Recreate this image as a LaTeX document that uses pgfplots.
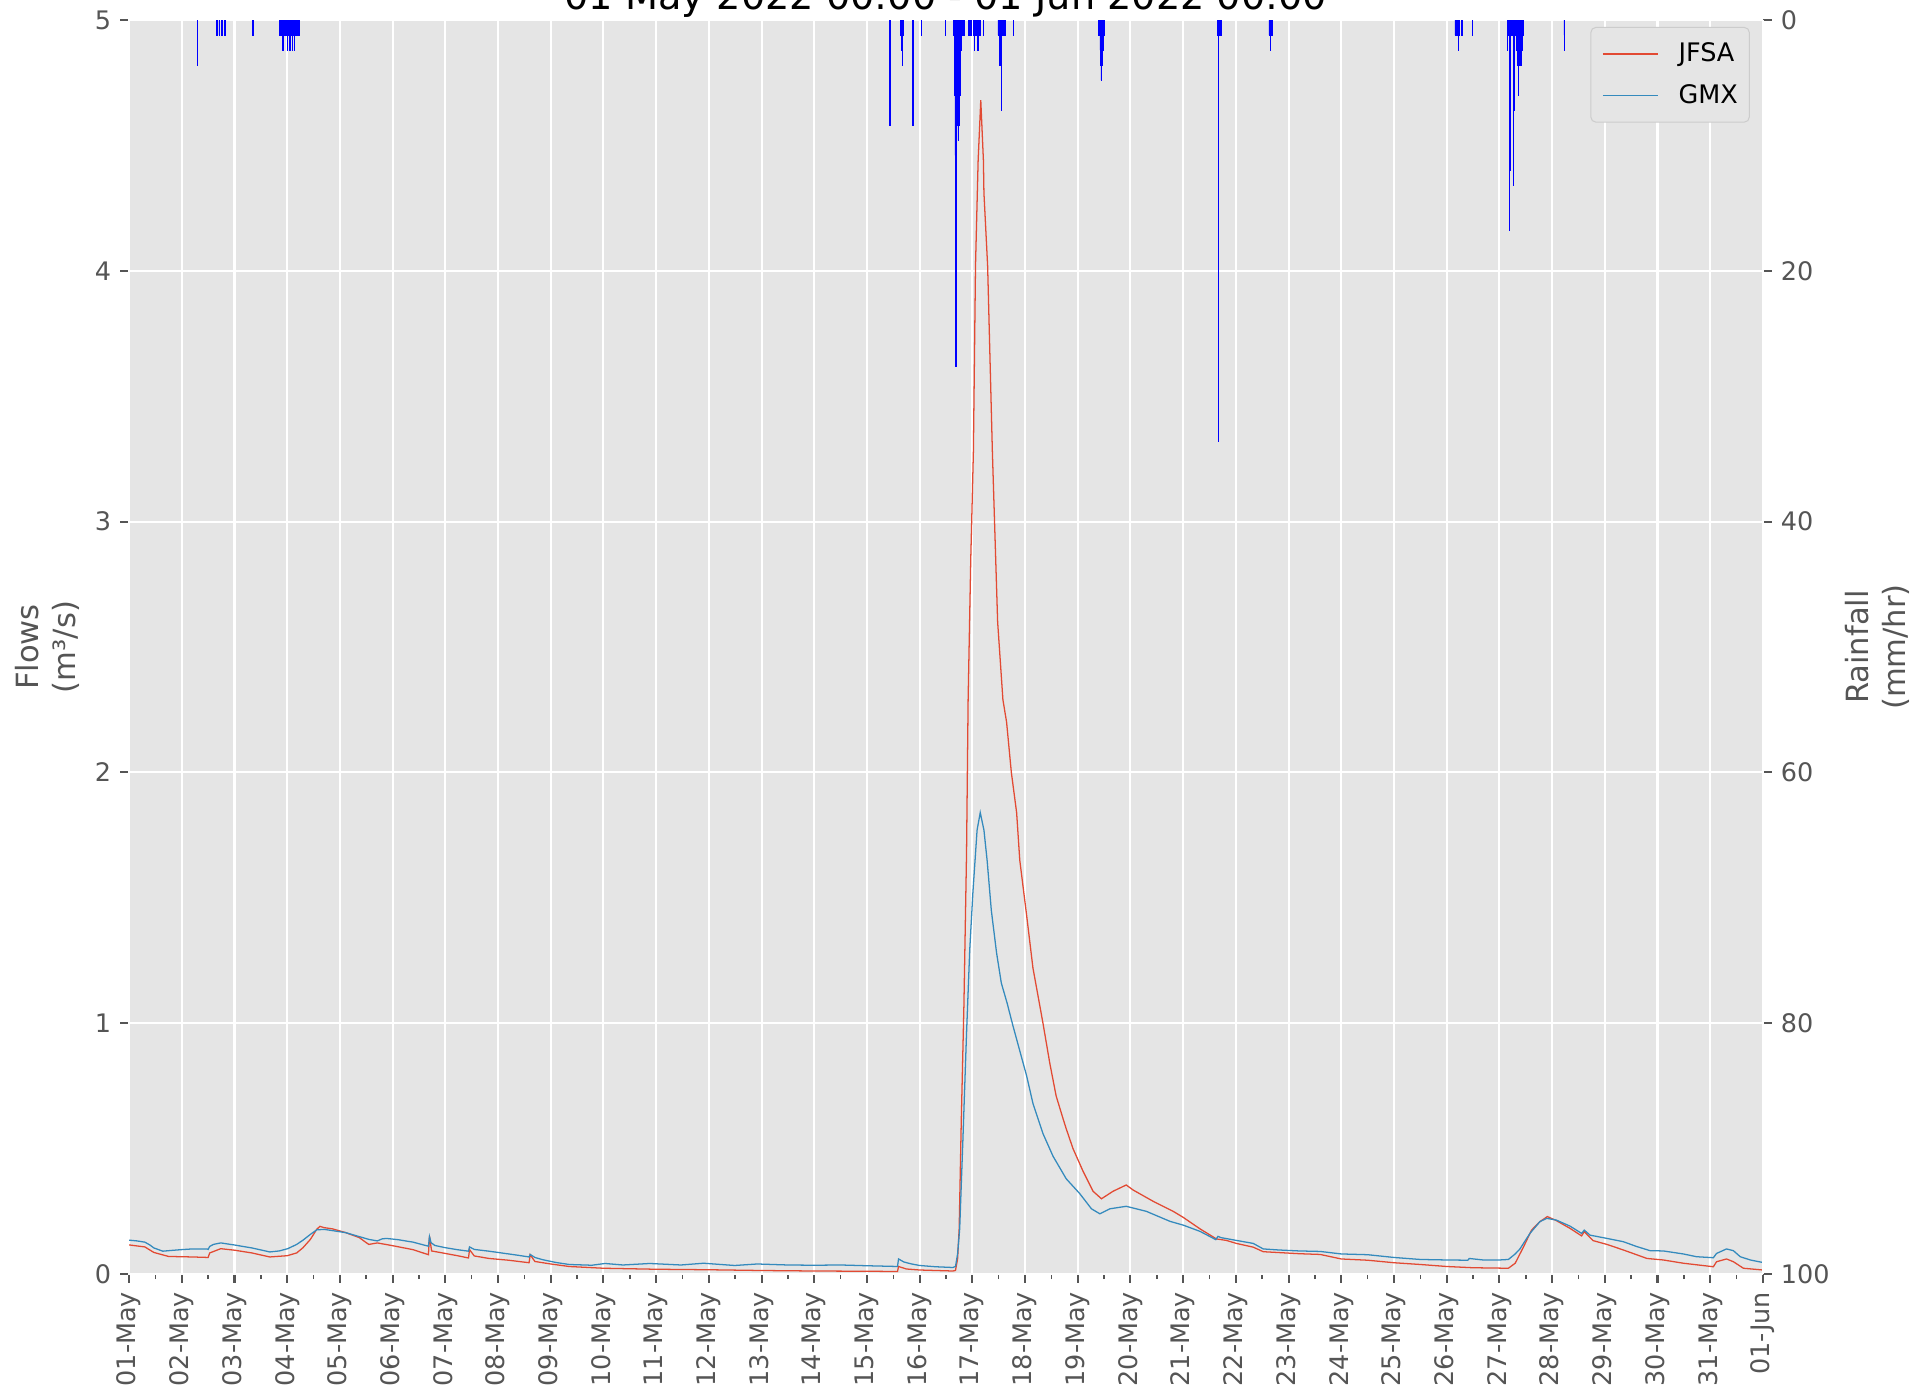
\documentclass[border=0pt]{standalone}
\usepackage{fontspec}
\setmainfont{DejaVu Sans}
\usepackage{pgfplots}
\pgfplotsset{compat=1.18}
\usepackage{pgfplotstable}
\definecolor{ggbg}{HTML}{E5E5E5}
\definecolor{ggtick}{HTML}{555555}
\definecolor{jfsa}{HTML}{E24A33}
\definecolor{gmx}{HTML}{348ABD}
\definecolor{legframe}{HTML}{CCCCCC}

\pgfplotstableread{
x y
0.00 0.116
0.30 0.108
0.47 0.086
0.75 0.070
1.20 0.068
1.50 0.066
1.53 0.084
1.74 0.101
2.00 0.095
2.33 0.084
2.67 0.068
3.00 0.073
3.18 0.084
3.30 0.105
3.44 0.138
3.56 0.178
3.62 0.190
3.70 0.185
3.86 0.180
4.11 0.165
4.37 0.145
4.50 0.125
4.55 0.118
4.71 0.124
5.00 0.113
5.39 0.097
5.68 0.077
5.70 0.151
5.74 0.092
6.00 0.082
6.23 0.073
6.44 0.064
6.46 0.097
6.55 0.072
6.83 0.062
7.20 0.055
7.59 0.045
7.61 0.077
7.70 0.050
8.00 0.040
8.35 0.030
9.00 0.023
10.00 0.019
11.00 0.017
12.00 0.014
13.00 0.012
14.00 0.011
14.58 0.010
14.60 0.030
14.75 0.020
15.00 0.016
15.63 0.012
15.68 0.014
15.72 0.060
15.75 0.180
15.79 0.610
15.84 1.070
15.89 1.680
15.92 2.290
15.97 2.850
16.02 3.280
16.06 4.020
16.11 4.440
16.16 4.680
16.21 4.440
16.22 4.310
16.29 4.020
16.38 3.280
16.48 2.600
16.58 2.290
16.65 2.200
16.74 2.000
16.84 1.840
16.90 1.650
17.03 1.430
17.15 1.220
17.28 1.070
17.34 1.000
17.47 0.840
17.59 0.710
17.72 0.620
17.78 0.580
17.91 0.500
18.10 0.410
18.29 0.330
18.45 0.300
18.67 0.330
18.92 0.355
19.05 0.335
19.43 0.290
19.81 0.250
20.00 0.226
20.32 0.180
20.63 0.140
20.82 0.134
21.01 0.122
21.33 0.107
21.52 0.089
22.20 0.081
22.60 0.078
23.00 0.060
23.50 0.055
24.00 0.045
24.50 0.038
25.00 0.030
25.50 0.025
26.17 0.023
26.30 0.043
26.46 0.109
26.61 0.175
26.77 0.209
26.91 0.229
27.08 0.213
27.34 0.182
27.56 0.152
27.61 0.169
27.78 0.133
28.04 0.118
28.35 0.096
28.80 0.062
29.11 0.056
29.49 0.043
30.06 0.029
30.12 0.049
30.31 0.060
30.44 0.049
30.63 0.023
31.00 0.016
}\jfsatable

\pgfplotstableread{
x y
0.00 0.135
0.15 0.132
0.30 0.127
0.40 0.115
0.47 0.104
0.64 0.091
0.80 0.094
0.98 0.097
1.20 0.100
1.48 0.100
1.50 0.098
1.53 0.110
1.60 0.118
1.74 0.124
1.99 0.116
2.33 0.104
2.67 0.088
2.85 0.092
3.01 0.101
3.18 0.118
3.30 0.135
3.44 0.158
3.56 0.176
3.70 0.178
3.86 0.173
4.11 0.165
4.37 0.149
4.55 0.138
4.71 0.132
4.80 0.140
4.88 0.142
5.10 0.137
5.39 0.127
5.55 0.118
5.68 0.111
5.70 0.149
5.73 0.125
5.80 0.114
6.00 0.105
6.23 0.097
6.44 0.091
6.46 0.108
6.55 0.098
6.83 0.091
7.10 0.083
7.34 0.076
7.59 0.068
7.61 0.078
7.70 0.066
7.85 0.057
8.10 0.046
8.35 0.038
8.78 0.035
9.03 0.042
9.37 0.036
9.88 0.042
10.47 0.036
10.90 0.043
11.49 0.034
11.92 0.040
12.50 0.036
13.00 0.035
13.50 0.036
14.00 0.033
14.58 0.030
14.60 0.060
14.70 0.048
14.85 0.040
15.00 0.034
15.30 0.029
15.63 0.026
15.68 0.030
15.72 0.080
15.76 0.180
15.82 0.530
15.89 0.960
15.95 1.290
16.01 1.520
16.09 1.770
16.15 1.840
16.22 1.770
16.28 1.650
16.36 1.450
16.46 1.280
16.55 1.160
16.66 1.080
16.77 0.990
16.90 0.890
17.03 0.790
17.15 0.680
17.34 0.560
17.53 0.470
17.78 0.380
18.04 0.320
18.26 0.260
18.42 0.240
18.61 0.260
18.92 0.270
19.30 0.250
19.75 0.210
20.00 0.195
20.32 0.170
20.62 0.137
20.66 0.150
20.72 0.145
21.01 0.134
21.33 0.122
21.52 0.100
21.80 0.096
22.20 0.092
22.60 0.090
23.00 0.080
23.50 0.077
24.00 0.066
24.50 0.058
25.00 0.056
25.40 0.055
25.43 0.062
25.69 0.056
26.00 0.056
26.17 0.058
26.30 0.080
26.39 0.100
26.58 0.162
26.77 0.209
26.90 0.222
27.08 0.215
27.34 0.191
27.56 0.162
27.61 0.175
27.72 0.155
28.04 0.142
28.35 0.129
28.60 0.110
28.86 0.093
29.11 0.092
29.49 0.080
29.74 0.069
30.06 0.065
30.12 0.082
30.31 0.100
30.44 0.093
30.57 0.069
30.76 0.056
31.00 0.046
}\gmxtable

\pgfplotstableread{
x y
1.295 2.4
1.302 3.6
1.660 1.2
1.667 1.2
1.708 1.2
1.760 1.2
1.767 1.2
1.816 1.2
2.350 1.2
2.854 1.2
2.861 1.2
2.868 1.2
2.875 1.2
2.882 1.2
2.889 1.2
2.896 1.2
2.903 1.2
2.910 1.2
2.917 2.4
2.924 1.2
2.931 1.2
2.938 1.2
2.944 1.2
2.951 1.2
2.958 1.2
2.965 1.2
2.972 1.2
2.979 1.2
2.986 1.2
2.993 1.2
3.000 1.2
3.007 2.4
3.014 1.2
3.021 1.2
3.028 1.2
3.035 1.2
3.042 1.2
3.049 2.4
3.056 1.2
3.063 1.2
3.069 1.2
3.076 1.2
3.083 1.2
3.090 1.2
3.097 2.4
3.104 1.2
3.111 1.2
3.118 1.2
3.125 1.2
3.132 1.2
3.139 2.4
3.146 1.2
3.153 1.2
3.160 1.2
3.167 1.2
3.174 1.2
3.181 1.2
3.188 1.2
3.194 1.2
3.201 1.2
3.208 1.2
3.215 1.2
3.222 1.2
3.229 1.2
14.430 7.2
14.437 8.4
14.646 1.2
14.653 2.4
14.660 2.4
14.667 1.2
14.674 3.6
14.681 1.2
14.688 1.2
14.868 6.0
14.875 8.4
15.030 1.2
15.490 1.2
15.653 1.2
15.660 2.4
15.667 6.0
15.674 10.8
15.681 9.6
15.688 27.6
15.694 24.0
15.701 8.4
15.708 8.4
15.715 7.2
15.722 8.4
15.729 9.6
15.736 9.6
15.743 8.4
15.750 7.2
15.757 6.0
15.764 6.0
15.771 6.0
15.778 4.8
15.785 2.4
15.792 2.4
15.799 1.2
15.806 1.2
15.813 1.2
15.819 1.2
15.826 1.2
15.833 1.2
15.840 1.2
15.924 1.2
15.955 1.2
15.986 1.2
16.028 1.2
16.035 1.2
16.042 2.4
16.049 1.2
16.056 1.2
16.063 1.2
16.069 1.2
16.076 1.2
16.083 1.2
16.090 1.2
16.097 1.2
16.104 2.4
16.111 1.2
16.118 1.2
16.125 1.2
16.132 1.2
16.139 1.2
16.146 1.2
16.210 1.2
16.490 1.2
16.514 3.6
16.521 3.6
16.528 3.6
16.535 3.6
16.542 3.6
16.549 7.2
16.556 1.2
16.563 1.2
16.569 1.2
16.576 1.2
16.583 1.2
16.590 1.2
16.597 1.2
16.604 1.2
16.611 1.2
16.618 1.2
16.780 1.2
18.403 1.2
18.410 1.2
18.417 1.2
18.424 2.4
18.431 2.4
18.438 3.6
18.444 4.8
18.451 3.6
18.458 3.6
18.465 3.6
18.472 2.4
18.479 2.4
18.486 1.2
18.493 1.2
18.500 1.2
18.507 1.2
20.660 1.2
20.667 20.4
20.674 33.6
20.681 1.2
20.688 1.2
20.694 1.2
20.701 1.2
20.708 1.2
20.715 1.2
20.722 1.2
21.632 1.2
21.639 1.2
21.646 1.2
21.653 2.4
21.660 1.2
21.667 1.2
21.674 1.2
21.681 1.2
21.688 1.2
21.694 1.2
25.160 1.2
25.167 1.2
25.174 1.2
25.181 1.2
25.188 1.2
25.194 1.2
25.201 1.2
25.208 1.2
25.215 1.2
25.222 2.4
25.229 1.2
25.236 1.2
25.243 1.2
25.290 1.2
25.490 1.2
26.153 2.4
26.167 1.2
26.174 1.2
26.181 1.2
26.188 1.2
26.194 16.8
26.201 12.0
26.208 1.2
26.215 1.2
26.222 1.2
26.229 1.2
26.236 1.2
26.243 1.2
26.250 1.2
26.257 1.2
26.264 1.2
26.271 13.2
26.278 1.2
26.285 7.2
26.292 1.2
26.299 1.2
26.306 1.2
26.313 1.2
26.319 1.2
26.326 2.4
26.333 2.4
26.340 2.4
26.347 3.6
26.354 3.6
26.361 6.0
26.368 3.6
26.375 3.6
26.382 2.4
26.389 2.4
26.396 1.2
26.403 1.2
26.410 3.6
26.417 1.2
26.424 1.2
26.431 2.4
26.438 1.2
26.444 1.2
26.451 1.2
26.458 1.2
27.229 1.2
27.236 2.4
}\raintable

\begin{document}
\begin{tikzpicture}
\pgfplotsset{
  common/.style={
    scale only axis, width=640.5pt, height=491.6pt,
    xmin=0, xmax=31,
    tick align=outside,
    major tick length=3.5pt, minor tick length=2pt,
    major tick style={ggtick, line width=0.8pt},
    minor tick style={ggtick, line width=0.6pt},
    tick label style={font=\fontsize{10}{12}\selectfont, text=ggtick},
    /pgf/number format/assume math mode=true,
    axis line style={white, line width=1pt},
  }
}
\begin{axis}[common,
  axis background/.style={fill=ggbg},
  ymin=0, ymax=5, ytick={0,1,2,3,4,5},
  xtick={0,1,...,31}, minor xtick={0.5,1.5,...,30.5},
  xticklabels={01-May,02-May,03-May,04-May,05-May,06-May,07-May,08-May,09-May,10-May,11-May,12-May,13-May,14-May,15-May,16-May,17-May,18-May,19-May,20-May,21-May,22-May,23-May,24-May,25-May,26-May,27-May,28-May,29-May,30-May,31-May,01-Jun},
  xticklabel style={rotate=90, anchor=east},
  xtick pos=bottom, ytick pos=left,
  xmajorgrids, ymajorgrids,
  grid style={white, line width=0.8pt},
  legend style={at={(axis description cs:0.992,0.9945)}, anchor=north east,
    draw=legframe, fill=ggbg, rounded corners=2pt,
    font=\fontsize{10}{12}\selectfont, text=black,
    inner xsep=4.5pt, inner ysep=6pt, row sep=7.3pt, column sep=7.8pt,
    nodes={inner sep=0pt}},
  legend cell align=left,
  legend image code/.code={\draw[#1] (0pt,0pt) -- (21.6pt,0pt);},
]
\addplot[jfsa, line width=0.5pt] table {\jfsatable};
\addlegendentry{JFSA}
\addplot[gmx, line width=0.5pt] table {\gmxtable};
\addlegendentry{GMX}
\end{axis}
\begin{axis}[common,
  ymin=0, ymax=100, y dir=reverse,
  ytick={0,20,40,60,80,100},
  axis y line*=right, axis x line=none,
]
\addplot[ybar, bar width=0.00694, fill=blue, draw=blue, line width=0.3pt] table {\raintable};
\end{axis}
\node[anchor=base, font=\fontsize{15}{18}\selectfont, text=black] at (320.25pt,495.6pt) {01 May 2022 00:00 - 01 Jun 2022 00:00};
\node[rotate=90, align=center, font=\fontsize{12}{14.4}\selectfont, text=ggtick] at (-31.95pt,245.8pt) {Flows\\(m³/s)};
\node[rotate=90, align=center, font=\fontsize{12}{14.4}\selectfont, text=ggtick] at (685.4pt,245.8pt) {Rainfall\\(mm/hr)};
\pgfresetboundingbox
\path[use as bounding box] (-50.6pt,-47.8pt) rectangle (706.4pt,499.44pt);
\end{tikzpicture}
\end{document}
